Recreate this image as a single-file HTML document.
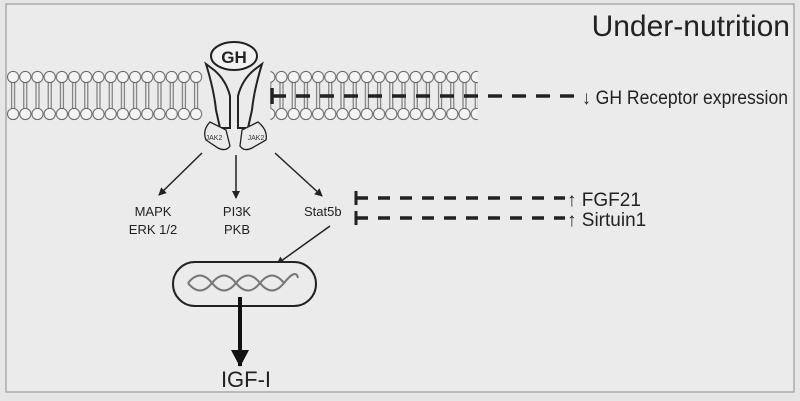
<!DOCTYPE html>
<html><head><style>
body{margin:0;background:#e6e6e6;}
svg{display:block;font-family:"Liberation Sans",sans-serif;}
</style></head><body>
<svg width="800" height="401" viewBox="0 0 800 401">
<defs>
<pattern id="lip" x="7" y="70" width="12.2" height="52" patternUnits="userSpaceOnUse">
<g stroke="#666" stroke-width="1" fill="#f4f4f4">
<line x1="4.6" y1="12" x2="4.6" y2="39"/><line x1="7.6" y1="12" x2="7.6" y2="39"/>
<circle cx="6.1" cy="7" r="5.6"/><circle cx="6.1" cy="44" r="5.6"/>
</g>
</pattern>
<marker id="a" markerWidth="8" markerHeight="8" refX="7" refY="4" orient="auto" markerUnits="userSpaceOnUse"><path d="M0 0 L8 4 L0 8 Z" fill="#222"/></marker>
<marker id="b" markerWidth="18" markerHeight="18" refX="16" refY="9" orient="auto" markerUnits="userSpaceOnUse"><path d="M0 0 L17 9 L0 18 Z" fill="#111"/></marker>
</defs>
<rect x="0" y="0" width="800" height="401" fill="#e6e6e6"/>
<rect x="6" y="4" width="788" height="388" fill="#ebebeb" stroke="#aaa" stroke-width="1.5"/>
<rect x="7" y="70" width="195.2" height="52" fill="url(#lip)"/>
<rect x="270.4" y="70" width="207.4" height="52" fill="url(#lip)"/>
<!-- receptor -->
<g stroke="#222" stroke-width="2" fill="#ebebeb">
<path d="M206 64 Q214 90 216 110 L220 128 L230 128 L230 96 Q226 80 214 70 Z"/>
<path d="M262 64 Q254 90 252 110 L248 128 L238 128 L238 96 Q242 80 254 70 Z"/>
<ellipse cx="234" cy="56" rx="23" ry="14" fill="#f2f2f2"/>
<path d="M210 122 L226 130 L230 146 Q226 152 218 148 L206 140 Q202 130 210 122 Z" stroke-width="1.3"/>
<path d="M258 122 L242 130 L240 146 Q244 152 252 148 L266 140 Q268 130 258 122 Z" stroke-width="1.3"/>
</g>
<text x="234" y="63" font-size="17" font-weight="bold" text-anchor="middle" fill="#222">GH</text>
<text x="214" y="140" font-size="7" fill="#333" text-anchor="middle">JAK2</text>
<text x="256" y="140" font-size="7" fill="#333" text-anchor="middle">JAK2</text>
<g stroke="#222" stroke-width="1.5">
<line x1="202" y1="153" x2="159" y2="195" marker-end="url(#a)"/>
<line x1="236" y1="155" x2="236" y2="198" marker-end="url(#a)"/>
<line x1="275" y1="153" x2="322" y2="196" marker-end="url(#a)"/>
<line x1="330" y1="226" x2="277" y2="264" marker-end="url(#a)"/>
</g>
<g font-size="13" fill="#222" text-anchor="middle">
<text x="153" y="216">MAPK</text><text x="153" y="234">ERK 1/2</text>
<text x="237" y="216">PI3K</text><text x="237" y="234">PKB</text>
<text x="304" y="216" text-anchor="start">Stat5b</text>
</g>
<g stroke="#222" stroke-width="3.5" fill="none">
<line x1="272" y1="88" x2="272" y2="104"/>
<line x1="272" y1="96" x2="580" y2="96" stroke-dasharray="14 10"/>
<line x1="356" y1="191" x2="356" y2="205" stroke-width="3"/>
<line x1="356" y1="198" x2="565" y2="198" stroke-dasharray="12 10"/>
<line x1="356" y1="211" x2="356" y2="225" stroke-width="3"/>
<line x1="356" y1="218" x2="565" y2="218" stroke-dasharray="12 10"/>
</g>
<g fill="#222" font-size="19">
<text x="582" y="104" textLength="206" lengthAdjust="spacingAndGlyphs">↓ GH Receptor expression</text>
<text x="567" y="206">↑ FGF21</text>
<text x="567" y="226">↑ Sirtuin1</text>
<text x="790" y="36" font-size="30" text-anchor="end">Under-nutrition</text>
</g>
<rect x="173" y="262" width="143" height="44" rx="22" fill="#ebebeb" stroke="#222" stroke-width="2"/>
<g stroke="#777" stroke-width="2" fill="none">
<path d="M188 283 Q200 268 212 283 T236 283 T260 283 T284 283 T298 278"/>
<path d="M188 283 Q200 298 212 283 T236 283 T260 283 T284 283"/>
</g>
<line x1="240" y1="297" x2="240" y2="366" stroke="#111" stroke-width="4" marker-end="url(#b)"/>
<text x="246" y="387" font-size="22" fill="#222" text-anchor="middle">IGF-I</text>
</svg>
</body></html>
